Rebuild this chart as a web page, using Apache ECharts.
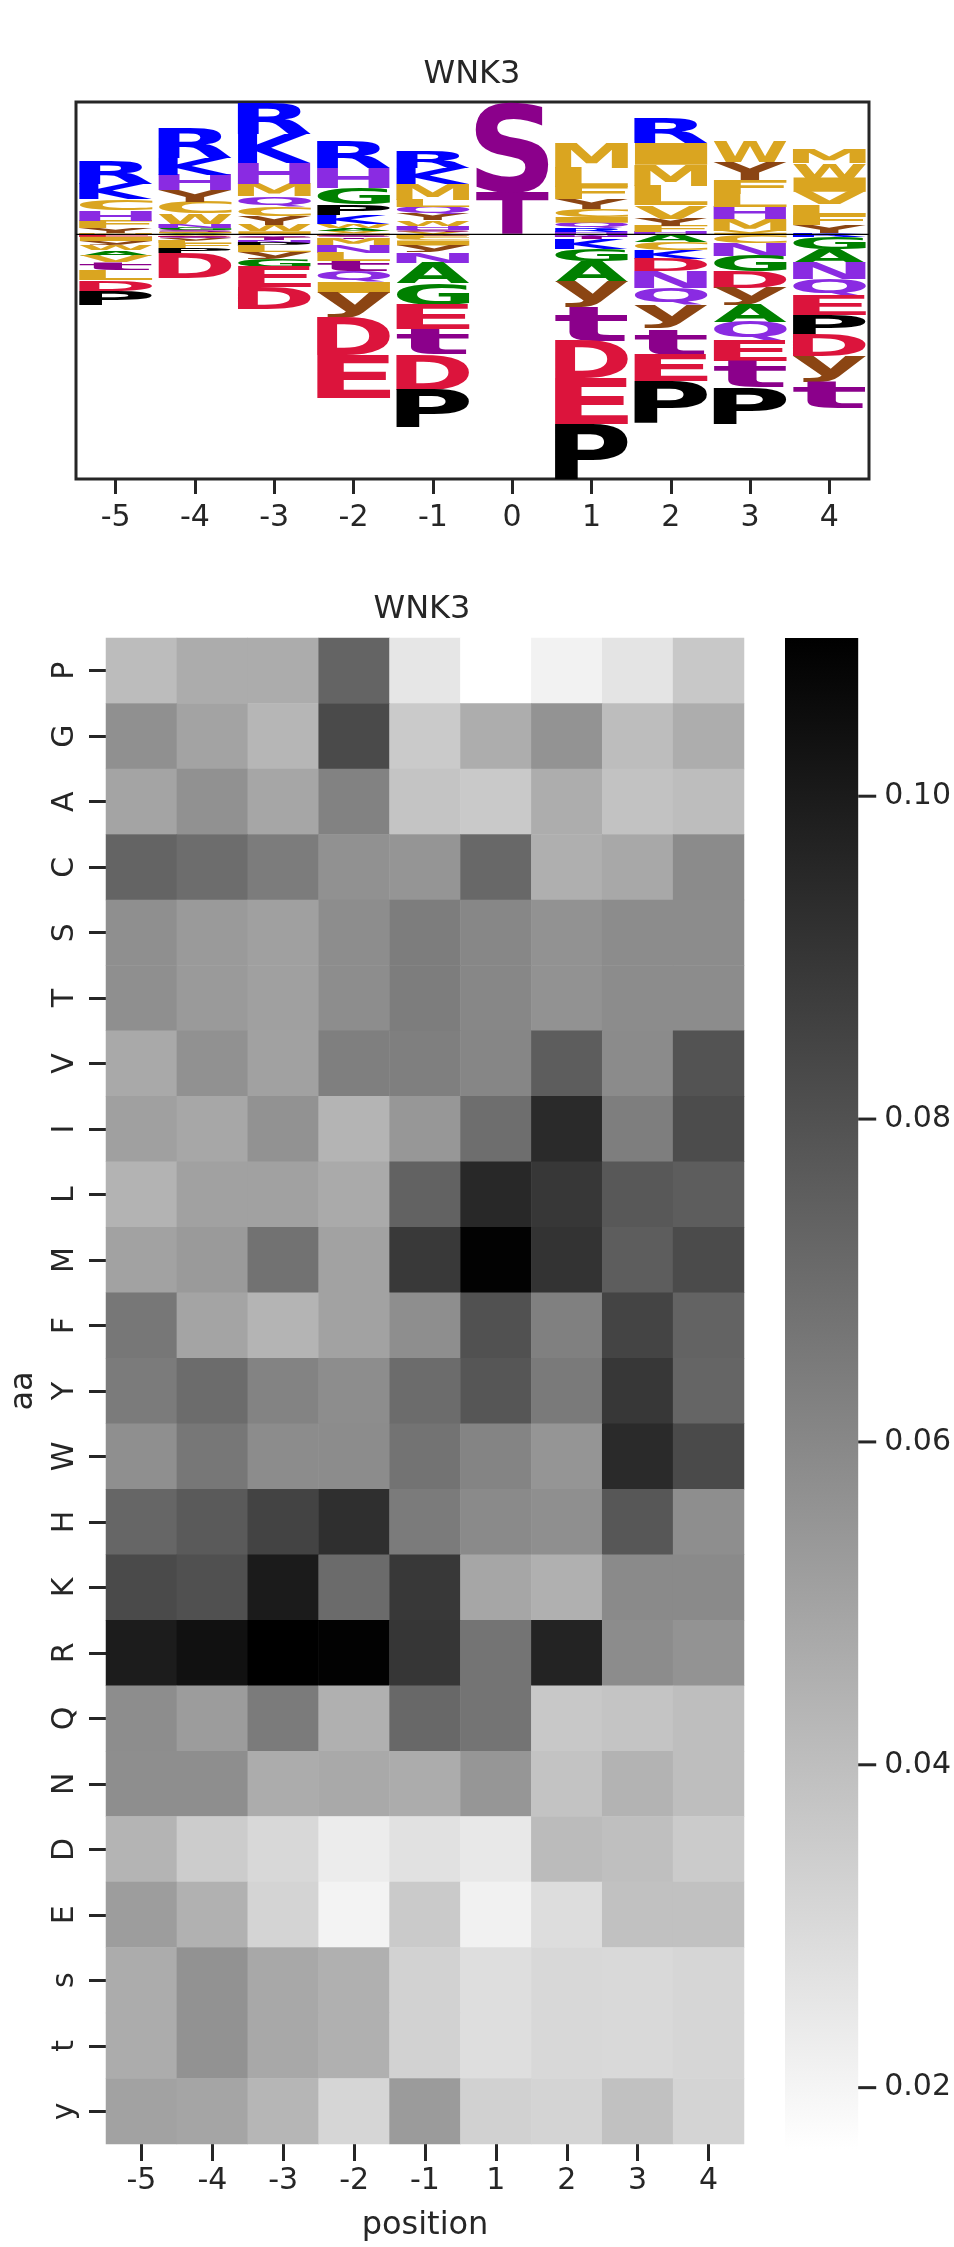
<!DOCTYPE html>
<html><head><meta charset="utf-8">
<script src="https://cdn.jsdelivr.net/npm/echarts@6/dist/echarts.min.js"></script>
<style>html,body{margin:0;padding:0;background:#fff}#chart{width:954px;height:2247px}</style>
</head><body><div id="chart"></div>
<script>
// ---------- sequence logo data (letter, height) per position ----------
const logoPositions = ['-5','-4','-3','-2','-1','0','1','2','3','4'];
const logo_m5 = [['M',.010],['Y',.050],['F',.073],['H',.105],['C',.110],['K',.150],['R',.237],
  ['E',-.023],['I',-.042],['y',-.044],['W',-.050],['A',-.055],['V',-.058],['t',-.080],['L',-.100],['D',-.108],['P',-.145]];
const logo_m4 = [['A',.012],['I',.013],['S',.020],['G',.021],['N',.033],['W',.107],['C',.116],['Y',.119],['H',.150],['K',.170],['R',.293],
  ['V',-.012],['E',-.013],['s',-.015],['y',-.020],['L',-.023],['F',-.048],['P',-.050],['D',-.250]];
const logo_m3 = [['I',.030],['W',.067],['Y',.083],['C',.099],['Q',.100],['M',.127],['H',.207],['K',.290],['R',.310],
  ['A',-.010],['s',-.013],['V',-.015],['T',-.018],['N',-.025],['P',-.033],['L',-.060],['y',-.073],['G',-.077],['E',-.200],['D',-.217]];
const logo_m2 = [['C',.013],['V',.020],['A',.030],['W',.043],['K',.090],['P',.103],['G',.163],['H',.195],['R',.265],
  ['F',-.012],['s',-.014],['T',-.016],['M',-.067],['N',-.077],['L',-.083],['t',-.100],['Q',-.105],['I',-.110],['y',-.250],['D',-.370],['E',-.425]];
const logo_m1 = [['V',.020],['S',.025],['H',.040],['W',.053],['Y',.060],['Q',.072],['L',.074],['M',.157],['K',.160],['R',.167],
  ['s',-.015],['F',-.020],['C',-.025],['I',-.050],['y',-.067],['N',-.107],['A',-.200],['G',-.220],['E',-.240],['t',-.250],['D',-.350],['P',-.373]];
const logo_0 = [['T',.417],['S',.900]];
const logo_p1 = [['H',.023],['R',.037],['Q',.056],['I',.058],['C',.077],['Y',.100],['F',.123],['L',.187],['M',.247],
  ['N',-.024],['T',-.026],['K',-.100],['G',-.117],['A',-.207],['y',-.250],['t',-.333],['D',-.377],['E',-.450],['P',-.550]];
const logo_p2 = [['H',.023],['F',.060],['Y',.073],['V',.133],['L',.193],['M',.210],['I',.217],['R',.240],
  ['A',-.078],['C',-.080],['K',-.083],['D',-.123],['N',-.167],['Q',-.175],['y',-.235],['t',-.255],['E',-.267],['P',-.417]];
const logo_p3 = [['I',.015],['V',.018],['M',.117],['H',.125],['L',.130],['F',.140],['Y',.177],['W',.200],
  ['C',-.083],['N',-.130],['G',-.153],['D',-.165],['y',-.169],['A',-.175],['Q',-.180],['E',-.200],['t',-.267],['P',-.360]];
const logo_p4 = [['K',.017],['Y',.077],['F',.100],['L',.107],['V',.123],['I',.141],['W',.143],['M',.145],
  ['R',-.023],['G',-.120],['A',-.143],['N',-.163],['Q',-.167],['E',-.189],['P',-.193],['D',-.217],['y',-.250],['t',-.267]];

// ---------- heatmap data ----------
const hmPositions = ['-5','-4','-3','-2','-1','1','2','3','4'];
const aaRows = ['P','G','A','C','S','T','V','I','L','M','F','Y','W','H','K','R','Q','N','D','E','s','t','y'];
const hm_P = [.0408,.0467,.0467,.0731,.0254,.0162,.0210,.0261,.0364];
const hm_G = [.0569,.0500,.0430,.0826,.0357,.0463,.0558,.0404,.0463];
const hm_A = [.0496,.0566,.0489,.0621,.0379,.0360,.0463,.0386,.0404];
const hm_C = [.0731,.0698,.0643,.0566,.0551,.0716,.0456,.0481,.0588];
const hm_S = [.0573,.0533,.0511,.0580,.0639,.0602,.0562,.0584,.0584];
const hm_T = [.0572,.0532,.0512,.0581,.0638,.0601,.0563,.0583,.0585];
const hm_V = [.0478,.0566,.0507,.0632,.0632,.0606,.0757,.0588,.0793];
const hm_I = [.0511,.0485,.0562,.0437,.0544,.0694,.0944,.0635,.0819];
const hm_L = [.0441,.0507,.0507,.0474,.0738,.0951,.0896,.0775,.0757];
const hm_M = [.0503,.0533,.0679,.0503,.0889,.1090,.0911,.0757,.0823];
const hm_F = [.0661,.0496,.0437,.0503,.0577,.0801,.0628,.0848,.0735];
const hm_Y = [.0646,.0702,.0617,.0580,.0702,.0782,.0650,.0896,.0727];
const hm_W = [.0573,.0661,.0584,.0584,.0676,.0613,.0551,.0944,.0826];
const hm_H = [.0724,.0768,.0852,.0925,.0646,.0591,.0573,.0779,.0577];
const hm_K = [.0826,.0804,.0999,.0705,.0892,.0489,.0452,.0591,.0591];
const hm_R = [.0995,.1036,.1098,.1090,.0900,.0672,.0969,.0584,.0558];
const hm_Q = [.0580,.0525,.0646,.0452,.0716,.0672,.0364,.0379,.0401];
const hm_N = [.0577,.0577,.0467,.0478,.0467,.0547,.0382,.0441,.0401];
const hm_D = [.0437,.0349,.0305,.0232,.0272,.0246,.0412,.0397,.0353];
const hm_E = [.0522,.0448,.0320,.0206,.0357,.0213,.0287,.0390,.0390];
const hm_s = [.0467,.0562,.0481,.0452,.0327,.0283,.0305,.0302,.0313];
const hm_t = [.0466,.0561,.0482,.0451,.0328,.0284,.0306,.0303,.0314];
const hm_y = [.0503,.0492,.0430,.0313,.0529,.0331,.0320,.0390,.0320];
const cbTicks = [0.02, 0.04, 0.06, 0.08, 0.10];

// ---------- styling ----------
const FONT = '"DejaVu Sans", "Noto Sans", sans-serif';
const INK = '#262626';
const CMAP = ['#ffffff', '#000000'];
const letterColor = {R:'#0000ff',K:'#0000ff',H:'#8a2be2',N:'#8a2be2',Q:'#8a2be2',
  M:'#daa520',L:'#daa520',I:'#daa520',V:'#daa520',F:'#daa520',W:'#daa520',C:'#daa520',
  Y:'#8b4513',y:'#8b4513',A:'#008000',G:'#008000',S:'#8b008b',T:'#8b008b',s:'#8b008b',t:'#8b008b',
  D:'#dc143c',E:'#dc143c',P:'#000000'};
const LOGO_FONT = 'bold 200px "DejaVu Sans"';

// glyph metrics
const mc = document.createElement('canvas').getContext('2d');
mc.font = LOGO_FONT; mc.textBaseline = 'middle'; mc.textAlign = 'left';
const glyphCache = {};
function glyphBox(ch) {
  if (!glyphCache[ch]) {
    const m = mc.measureText(ch);
    glyphCache[ch] = {l: m.actualBoundingBoxLeft, r: m.actualBoundingBoxRight, a: m.actualBoundingBoxAscent, d: m.actualBoundingBoxDescent};
  }
  return glyphCache[ch];
}

// stack letters (small next to the baseline, big on the outside)
const logoColumns = [logo_m5, logo_m4, logo_m3, logo_m2, logo_m1, logo_0, logo_p1, logo_p2, logo_p3, logo_p4];
const logoItems = [];
let stackMax = 0, stackMin = 0;
logoColumns.forEach((col, i) => {
  let base = 0;
  col.filter(d => d[1] > 0).sort((a, b) => a[1] - b[1]).forEach(d => {
    logoItems.push({value: [i, base, base + d[1]], letter: d[0]}); base += d[1];
  });
  stackMax = Math.max(stackMax, base);
  base = 0;
  col.filter(d => d[1] < 0).sort((a, b) => b[1] - a[1]).forEach(d => {
    logoItems.push({value: [i, base + d[1], base], letter: d[0]}); base += d[1];
  });
  stackMin = Math.min(stackMin, base);
});

function renderLetter(params, api) {
  const item = logoItems[params.dataIndex];
  const i = api.value(0), lo = api.value(1), hi = api.value(2);
  const band = api.size([1, 0])[0];
  const top = api.coord([i, hi]), bot = api.coord([i, lo]);
  const w = band * 0.92, rh = bot[1] - top[1];
  if (rh < 0.3) return null;
  const g = glyphBox(item.letter);
  const sx = w / (g.l + g.r), sy = rh / (g.a + g.d);
  return {type: 'text', x: top[0] - w / 2 + g.l * sx, y: top[1] + g.a * sy, scaleX: sx, scaleY: sy,
    style: {text: item.letter, font: LOGO_FONT, fill: letterColor[item.letter], align: 'left', verticalAlign: 'middle',
      textAlign: 'left', textVerticalAlign: 'middle'}};
}

// heatmap rows
const hmRows = [hm_P,hm_G,hm_A,hm_C,hm_S,hm_T,hm_V,hm_I,hm_L,hm_M,hm_F,hm_Y,hm_W,hm_H,hm_K,hm_R,hm_Q,hm_N,hm_D,hm_E,hm_s,hm_t,hm_y];
const hmData = [];
hmRows.forEach((row, r) => row.forEach((v, c) => hmData.push([c, r, v])));
const allVals = hmRows.flat();
const VMIN = Math.min(...allVals), VMAX = Math.max(...allVals);

const tickStyle = (len) => ({show: true, inside: false, length: len, lineStyle: {color: INK, width: 3}});
const labelStyle = (m) => ({color: INK, fontSize: 30, fontFamily: FONT, margin: m});

const chart = echarts.init(document.getElementById('chart'), null, {renderer: 'canvas'});
chart.setOption({
  animation: false,
  backgroundColor: '#ffffff',
  graphic: [
    {type: 'text', x: 472, y: 75, style: {text: 'WNK3', font: '32px ' + FONT, fill: INK, align: 'center', verticalAlign: 'middle'}},
    {type: 'text', x: 422, y: 610, style: {text: 'WNK3', font: '32px ' + FONT, fill: INK, align: 'center', verticalAlign: 'middle'}}
  ],
  grid: [
    {left: 76, right: 85, top: 102, height: 377, show: true, borderColor: INK, borderWidth: 3, backgroundColor: 'transparent'},
    {left: 100, width: 644, top: 638, height: 1511},
    {left: 785, width: 75, top: 638, height: 1511}
  ],
  xAxis: [
    {gridIndex: 0, type: 'category', data: logoPositions, boundaryGap: true, position: 'bottom',
     axisLine: {show: false, onZero: false}, axisTick: Object.assign(tickStyle(15), {alignWithLabel: true}), axisLabel: labelStyle(24), splitLine: {show: false}},
    {gridIndex: 1, type: 'category', data: hmPositions, position: 'bottom',
     axisLine: {show: false, onZero: false}, axisTick: Object.assign(tickStyle(17), {alignWithLabel: true}), axisLabel: labelStyle(22),
     name: 'position', nameLocation: 'middle', nameGap: 66, nameTextStyle: {color: INK, fontSize: 32, fontFamily: FONT}},
    {gridIndex: 2, type: 'value', min: 0, max: 1, show: false}
  ],
  yAxis: [
    {gridIndex: 0, type: 'value', min: stackMin, max: stackMax, show: false},
    {gridIndex: 1, type: 'category', data: aaRows, inverse: true,
     axisLine: {show: false, onZero: false}, axisTick: Object.assign(tickStyle(17), {alignWithLabel: true}),
     axisLabel: Object.assign(labelStyle(26), {rotate: 90}),
     name: 'aa', nameLocation: 'middle', nameGap: 66, nameTextStyle: {color: INK, fontSize: 32, fontFamily: FONT}},
    {gridIndex: 2, type: 'value', min: VMIN, max: VMAX, position: 'right',
     axisLine: {show: false}, splitLine: {show: false}, axisTick: {show: false},
     axisLabel: Object.assign(labelStyle(26), {customValues: cbTicks, formatter: v => v.toFixed(2)})}
  ],
  visualMap: {show: false, type: 'continuous', seriesIndex: 2, min: VMIN, max: VMAX, inRange: {color: CMAP}},
  series: [
    {type: 'custom', xAxisIndex: 0, yAxisIndex: 0, clip: false, silent: true,
     data: logoItems.map(d => d.value), encode: {x: 0, y: [1, 2]}, renderItem: renderLetter},
    {type: 'custom', xAxisIndex: 0, yAxisIndex: 0, silent: true, data: [[0, 0]], encode: {x: 0, y: 1},
     renderItem: (params, api) => {
       const cs = params.coordSys; const y = api.coord([0, 0])[1];
       return {type: 'line', shape: {x1: cs.x, y1: y, x2: cs.x + cs.width, y2: y}, style: {stroke: '#000', lineWidth: 1.3}};
     }},
    {type: 'heatmap', xAxisIndex: 1, yAxisIndex: 1, data: hmData, silent: true, itemStyle: {borderWidth: 0}},
    {type: 'custom', xAxisIndex: 2, yAxisIndex: 2, silent: true, data: [[0, VMIN, VMAX]], encode: {x: 0, y: [1, 2]},
     renderItem: (params, api) => {
       const p1 = api.coord([0, api.value(2)]), p2 = api.coord([1, api.value(1)]);
       return {type: 'rect', shape: {x: p1[0], y: p1[1], width: p2[0] - p1[0], height: p2[1] - p1[1]},
         style: {fill: new echarts.graphic.LinearGradient(0, 1, 0, 0, CMAP.map((c, k) => ({offset: k / (CMAP.length - 1), color: c})))}};
     }},
    {type: 'custom', xAxisIndex: 2, yAxisIndex: 2, silent: true, clip: false, data: cbTicks.map(v => [1, v]), encode: {x: 0, y: 1},
     renderItem: (params, api) => {
       const p = api.coord([api.value(0), api.value(1)]);
       return {type: 'line', shape: {x1: p[0], y1: p[1], x2: p[0] + 18, y2: p[1]}, style: {stroke: INK, lineWidth: 3}};
     }}
  ]
});
</script></body></html>
